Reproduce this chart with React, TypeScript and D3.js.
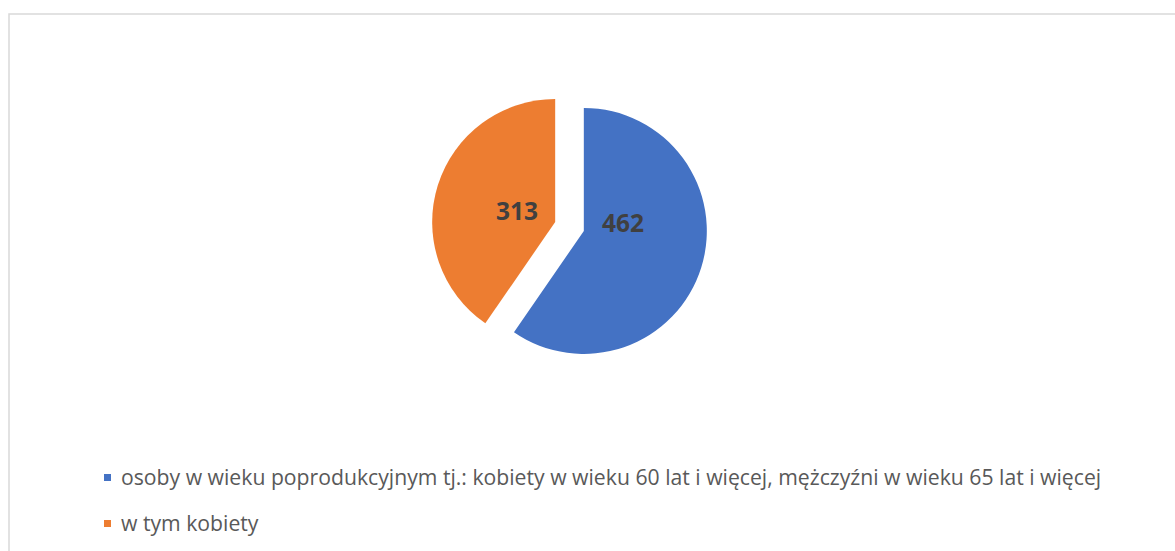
import React from "react";
import * as d3 from "d3";

const categories = [
  "osoby w wieku poprodukcyjnym tj.: kobiety w wieku 60 lat i więcej, mężczyźni w wieku 65 lat i więcej",
  "w tym kobiety",
];
const values = [462, 313];
const colors = ["#4472C4", "#ED7D31"];

const W = 1175;
const H = 551;
const CX = 569.5;
const CY = 226.5;
const R = 123;
const EXPLODE = 15;
const LABEL_FRAC = [0.365, 0.5];
const LABEL_R = 40;

export default function App() {
  const pie = d3
    .pie<number>()
    .sort(null)
    .value((d) => d)(values);
  const arc = d3.arc<d3.PieArcDatum<number>>().innerRadius(0).outerRadius(R);

  const legendY = d3.scalePoint<string>().domain(categories).range([485, 531]);

  return (
    <svg
      width={W}
      height={H}
      style={{ position: "absolute", left: 0, top: 0, background: "#fff" }}
    >
      <rect x={9} y={14} width={W} height={H} fill="#fff" stroke="#d9d9d9" strokeWidth={1.5} />
      {pie.map((p, i) => {
        const mid = (p.startAngle + p.endAngle) / 2;
        const ox = CX + EXPLODE * Math.sin(mid);
        const oy = CY - EXPLODE * Math.cos(mid);
        const la = p.startAngle + (p.endAngle - p.startAngle) * LABEL_FRAC[i];
        const lx = ox + LABEL_R * Math.sin(la);
        const ly = oy - LABEL_R * Math.cos(la);
        return (
          <g key={i}>
            <path d={arc(p) || ""} transform={`translate(${ox},${oy})`} fill={colors[i]} />
            <text
              x={lx}
              y={ly}
              textAnchor="middle"
              dominantBaseline="central"
              fontFamily="'Open Sans', sans-serif"
              fontWeight={700}
              fontSize={24.5}
              fill="#404040"
            >
              {values[i]}
            </text>
          </g>
        );
      })}
      {categories.map((c, i) => {
        const y = legendY(c) as number;
        return (
          <g key={c}>
            <rect x={104} y={y - 11} width={7} height={7} fill={colors[i]} />
            <text
              x={121}
              y={y}
              fontFamily="'Open Sans', sans-serif"
              fontSize={21.2}
              fill="#595959"
            >
              {c}
            </text>
          </g>
        );
      })}
    </svg>
  );
}
